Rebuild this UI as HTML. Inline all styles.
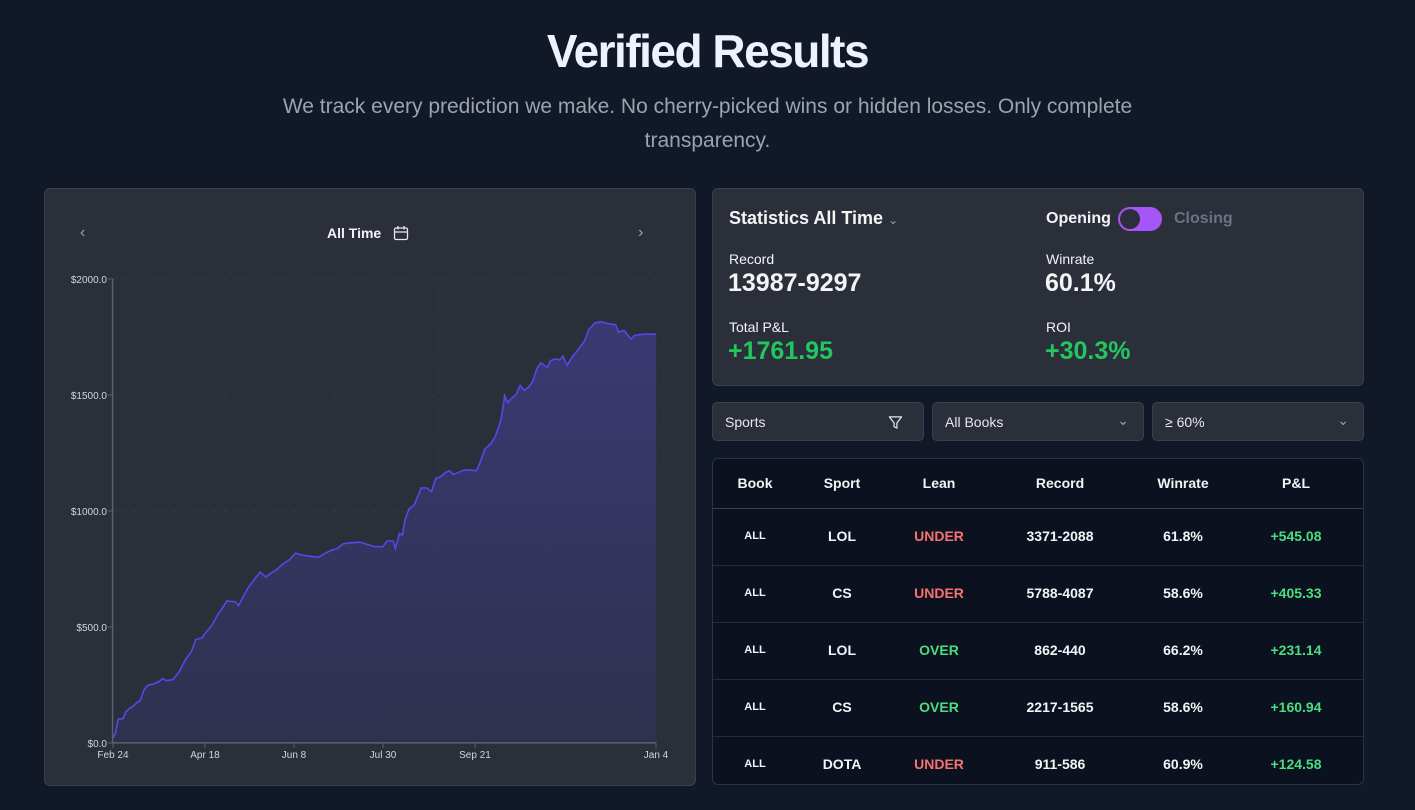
<!DOCTYPE html>
<html><head><meta charset="utf-8"><style>
*{margin:0;padding:0;box-sizing:border-box}
body{width:1415px;height:810px;overflow:hidden;background:#111827;font-family:"Liberation Sans",Arial,sans-serif;color:#f3f4f6;position:relative}
.a{position:absolute}
.card{position:absolute;background:#2b2f3a;border:1px solid #3b404c;border-radius:6px}
.c{text-align:center}
.td{position:absolute;font-size:14px;transform:translate(-50%,-50%);white-space:nowrap;font-weight:bold}
.sel{position:absolute;top:402px;height:39px;width:212px;background:#2b2f3a;border:1px solid #3b404c;border-radius:5px;font-size:14px;padding:11px 12px;color:#e5e7eb}
.red{color:#f87171}.grn{color:#4ade80}
</style></head><body>
<div class="a c" style="left:0;width:1415px;top:24px;font-size:46px;font-weight:bold;letter-spacing:-1.5px;color:#eef2ff">Verified Results</div>
<div class="a c" style="left:240px;width:935px;top:90px;font-size:21px;line-height:34px;color:#9ca3af">We track every prediction we make. No cherry-picked wins or hidden losses. Only complete transparency.</div>

<div class="card" style="left:44px;top:188px;width:652px;height:598px"></div>
<div class="a" style="left:80px;top:224px;font-size:16px;color:#9ca3af">‹</div>
<div class="a" style="left:638px;top:224px;font-size:16px;color:#9ca3af">›</div>
<div class="a" style="left:327px;top:225px;font-size:14px;font-weight:bold;color:#f3f4f6">All Time</div>
<svg class="a" style="left:393px;top:225px" width="16" height="16" viewBox="0 0 16 16"><rect x="1.5" y="3" width="13" height="11.5" rx="1.5" fill="none" stroke="#e5e7eb" stroke-width="1.3"/><line x1="1.5" y1="7" x2="14.5" y2="7" stroke="#e5e7eb" stroke-width="1.3"/><line x1="5" y1="1" x2="5" y2="4.5" stroke="#e5e7eb" stroke-width="1.3"/><line x1="11" y1="1" x2="11" y2="4.5" stroke="#e5e7eb" stroke-width="1.3"/></svg>

<svg class="a" style="left:44px;top:190px" width="652" height="595" viewBox="0 0 1568 1568" preserveAspectRatio="none">
<defs><linearGradient id="g" x1="0" y1="0" x2="0" y2="1"><stop offset="0" stop-color="#3d3a7a" stop-opacity="0.9"/><stop offset="1" stop-color="#2f3150" stop-opacity="0.9"/></linearGradient></defs>
<g stroke="#343945" stroke-dasharray="4 6" stroke-width="1">
<line x1="165" y1="234" x2="1472" y2="234" vector-effect="non-scaling-stroke"/><line x1="165" y1="540" x2="1472" y2="540" vector-effect="non-scaling-stroke"/><line x1="165" y1="846" x2="1472" y2="846" vector-effect="non-scaling-stroke"/><line x1="165" y1="1151" x2="1472" y2="1151" vector-effect="non-scaling-stroke"/>
<line x1="437" y1="234" x2="437" y2="1457" vector-effect="non-scaling-stroke"/><line x1="695" y1="234" x2="695" y2="1457" vector-effect="non-scaling-stroke"/><line x1="950" y1="234" x2="950" y2="1457" vector-effect="non-scaling-stroke"/><line x1="1207" y1="234" x2="1207" y2="1457" vector-effect="non-scaling-stroke"/><line x1="1472" y1="234" x2="1472" y2="1457" vector-effect="non-scaling-stroke"/>
</g>
<path fill="url(#g)" d="M165,1457 L165,1445 172,1432 178,1395 190,1393 197,1375 205,1367 215,1360 222,1352 232,1345 240,1318 250,1305 262,1302 275,1297 285,1288 295,1293 310,1290 325,1270 340,1238 355,1215 365,1185 380,1180 390,1165 405,1145 420,1115 430,1100 440,1083 460,1085 468,1095 480,1070 490,1050 500,1035 510,1020 520,1007 533,1020 545,1010 560,1000 575,985 590,975 605,957 620,962 640,965 660,968 675,958 690,950 705,945 720,932 735,930 760,928 780,935 795,940 815,940 825,925 840,925 845,945 855,905 862,910 868,870 878,840 890,830 900,805 907,785 920,785 932,795 942,760 955,755 965,745 975,740 985,750 995,745 1010,738 1025,738 1040,740 1048,720 1060,683 1075,668 1085,650 1095,620 1100,600 1108,542 1115,560 1125,548 1135,540 1145,515 1155,528 1165,520 1175,505 1185,472 1195,455 1210,468 1218,450 1230,445 1240,448 1248,438 1258,462 1270,440 1285,420 1300,398 1310,368 1325,350 1340,347 1355,352 1375,355 1382,375 1395,370 1412,393 1420,383 1440,380 1472,380 L1472,1457 Z"/>
<path fill="none" stroke="#5548e8" stroke-width="1.6" vector-effect="non-scaling-stroke" d="M165,1445 172,1432 178,1395 190,1393 197,1375 205,1367 215,1360 222,1352 232,1345 240,1318 250,1305 262,1302 275,1297 285,1288 295,1293 310,1290 325,1270 340,1238 355,1215 365,1185 380,1180 390,1165 405,1145 420,1115 430,1100 440,1083 460,1085 468,1095 480,1070 490,1050 500,1035 510,1020 520,1007 533,1020 545,1010 560,1000 575,985 590,975 605,957 620,962 640,965 660,968 675,958 690,950 705,945 720,932 735,930 760,928 780,935 795,940 815,940 825,925 840,925 845,945 855,905 862,910 868,870 878,840 890,830 900,805 907,785 920,785 932,795 942,760 955,755 965,745 975,740 985,750 995,745 1010,738 1025,738 1040,740 1048,720 1060,683 1075,668 1085,650 1095,620 1100,600 1108,542 1115,560 1125,548 1135,540 1145,515 1155,528 1165,520 1175,505 1185,472 1195,455 1210,468 1218,450 1230,445 1240,448 1248,438 1258,462 1270,440 1285,420 1300,398 1310,368 1325,350 1340,347 1355,352 1375,355 1382,375 1395,370 1412,393 1420,383 1440,380 1472,380"/>
<g stroke="#5b6170" stroke-width="1.5"><line x1="165" y1="234" x2="165" y2="1457" vector-effect="non-scaling-stroke"/><line x1="165" y1="1457" x2="1472" y2="1457" vector-effect="non-scaling-stroke"/></g>
</svg>
<svg class="a" style="left:0;top:0" width="700" height="800">
<g font-family="Liberation Sans,Arial,sans-serif" font-size="10" fill="#d1d5db" text-anchor="end">
<text x="107" y="283">$2000.0</text><text x="107" y="399">$1500.0</text><text x="107" y="515">$1000.0</text><text x="107" y="631">$500.0</text><text x="107" y="747">$0.0</text></g>
<g stroke="#5b6170"><line x1="108" y1="279" x2="113" y2="279"/><line x1="108" y1="395" x2="113" y2="395"/><line x1="108" y1="511" x2="113" y2="511"/><line x1="108" y1="627" x2="113" y2="627"/><line x1="108" y1="743" x2="113" y2="743"/>
<line x1="113" y1="743" x2="113" y2="748"/><line x1="205" y1="743" x2="205" y2="748"/><line x1="294" y1="743" x2="294" y2="748"/><line x1="383" y1="743" x2="383" y2="748"/><line x1="475" y1="743" x2="475" y2="748"/><line x1="656" y1="743" x2="656" y2="748"/></g>
<g font-family="Liberation Sans,Arial,sans-serif" font-size="10" fill="#d1d5db" text-anchor="middle">
<text x="113" y="758">Feb 24</text><text x="205" y="758">Apr 18</text><text x="294" y="758">Jun 8</text><text x="383" y="758">Jul 30</text><text x="475" y="758">Sep 21</text><text x="656" y="758">Jan 4</text></g>
</svg>

<div class="card" style="left:712px;top:188px;width:652px;height:198px"></div>
<div class="a" style="left:729px;top:208px;font-size:18px;font-weight:bold">Statistics All Time <span style="font-size:12px;color:#9ca3af;font-weight:normal">⌄</span></div>
<div class="a" style="left:1046px;top:210px;font-size:16px;font-weight:bold;color:#f3f4f6">Opening</div>
<div class="a" style="left:1118px;top:207px;width:44px;height:24px;border-radius:12px;background:#a855f7"><div class="a" style="left:2px;top:2px;width:20px;height:20px;border-radius:10px;background:#2b2f3a"></div></div>
<div class="a" style="left:1174px;top:210px;font-size:16px;color:#6b7280;font-weight:bold">Closing</div>
<div class="a" style="left:729px;top:251px;font-size:14px">Record</div>
<div class="a" style="left:728px;top:269px;font-size:25px;font-weight:bold">13987-9297</div>
<div class="a" style="left:1046px;top:251px;font-size:14px">Winrate</div>
<div class="a" style="left:1045px;top:269px;font-size:25px;font-weight:bold">60.1%</div>
<div class="a" style="left:729px;top:319px;font-size:14px">Total P&amp;L</div>
<div class="a" style="left:728px;top:337px;font-size:25px;font-weight:bold;color:#22c55e">+1761.95</div>
<div class="a" style="left:1046px;top:319px;font-size:14px">ROI</div>
<div class="a" style="left:1045px;top:337px;font-size:25px;font-weight:bold;color:#22c55e">+30.3%</div>

<div class="sel" style="left:712px">Sports<svg class="a" style="right:20px;top:12px" width="15" height="15" viewBox="0 0 16 16"><path d="M1.5 2h13l-5 6.5v5.5l-3-1.5v-4z" fill="none" stroke="#e5e7eb" stroke-width="1.3" stroke-linejoin="round"/></svg></div>
<div class="sel" style="left:932px">All Books<span class="a" style="right:14px;top:9px;color:#9ca3af">⌄</span></div>
<div class="sel" style="left:1152px">≥ 60%<span class="a" style="right:14px;top:9px;color:#9ca3af">⌄</span></div>

<div class="a" style="left:712px;top:458px;width:652px;height:327px;background:#0c1120;border:1px solid #2d3340;border-radius:6px;overflow:hidden">
<div class="a" style="left:0;top:49px;width:652px;height:1px;background:#3a3f4b"></div>
<div class="a" style="left:0;top:106px;width:652px;height:1px;background:#262b36"></div>
<div class="a" style="left:0;top:163px;width:652px;height:1px;background:#262b36"></div>
<div class="a" style="left:0;top:220px;width:652px;height:1px;background:#262b36"></div>
<div class="a" style="left:0;top:277px;width:652px;height:1px;background:#262b36"></div>
</div>
<div class="td" style="left:755px;top:483px">Book</div><div class="td" style="left:842px;top:483px">Sport</div><div class="td" style="left:939px;top:483px">Lean</div><div class="td" style="left:1060px;top:483px">Record</div><div class="td" style="left:1183px;top:483px">Winrate</div><div class="td" style="left:1296px;top:483px">P&amp;L</div>

<div class="td" style="left:755px;top:536px;font-size:11px">ALL</div><div class="td" style="left:842px;top:536px">LOL</div><div class="td red" style="left:939px;top:536px">UNDER</div><div class="td" style="left:1060px;top:536px">3371-2088</div><div class="td" style="left:1183px;top:536px">61.8%</div><div class="td grn" style="left:1296px;top:536px">+545.08</div>
<div class="td" style="left:755px;top:593px;font-size:11px">ALL</div><div class="td" style="left:842px;top:593px">CS</div><div class="td red" style="left:939px;top:593px">UNDER</div><div class="td" style="left:1060px;top:593px">5788-4087</div><div class="td" style="left:1183px;top:593px">58.6%</div><div class="td grn" style="left:1296px;top:593px">+405.33</div>
<div class="td" style="left:755px;top:650px;font-size:11px">ALL</div><div class="td" style="left:842px;top:650px">LOL</div><div class="td grn" style="left:939px;top:650px">OVER</div><div class="td" style="left:1060px;top:650px">862-440</div><div class="td" style="left:1183px;top:650px">66.2%</div><div class="td grn" style="left:1296px;top:650px">+231.14</div>
<div class="td" style="left:755px;top:707px;font-size:11px">ALL</div><div class="td" style="left:842px;top:707px">CS</div><div class="td grn" style="left:939px;top:707px">OVER</div><div class="td" style="left:1060px;top:707px">2217-1565</div><div class="td" style="left:1183px;top:707px">58.6%</div><div class="td grn" style="left:1296px;top:707px">+160.94</div>
<div class="td" style="left:755px;top:764px;font-size:11px">ALL</div><div class="td" style="left:842px;top:764px">DOTA</div><div class="td red" style="left:939px;top:764px">UNDER</div><div class="td" style="left:1060px;top:764px">911-586</div><div class="td" style="left:1183px;top:764px">60.9%</div><div class="td grn" style="left:1296px;top:764px">+124.58</div>
</body></html>
